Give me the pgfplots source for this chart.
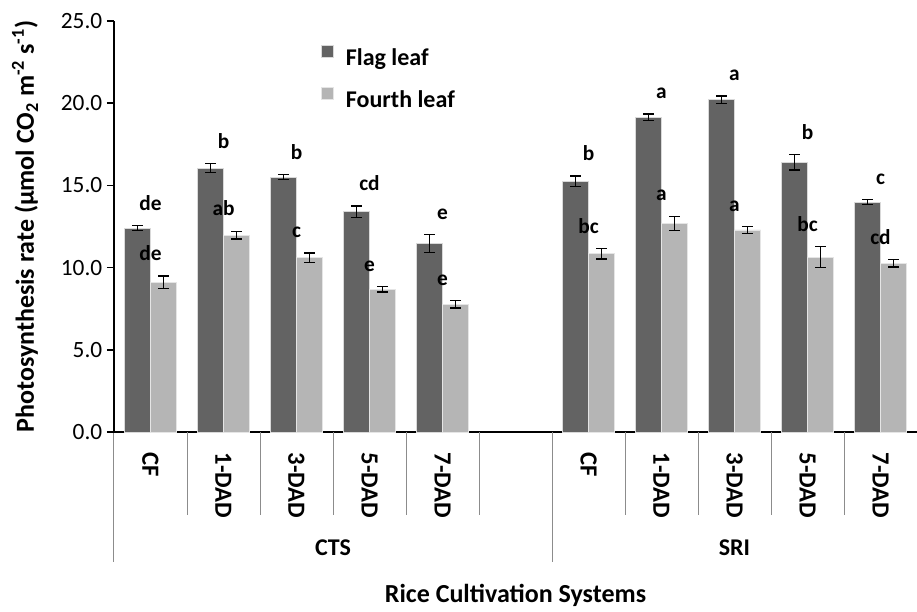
\documentclass[border=0pt]{standalone}
\usepackage{fontspec}
\setmainfont{Carlito}
\usepackage{pgfplots}
\usepackage{pgfplotstable}
\pgfplotsset{compat=1.18}
\definecolor{flagc}{RGB}{99,99,99}
\definecolor{fourc}{RGB}{181,181,181}
\definecolor{sepc}{RGB}{140,140,140}
\pgfplotstableread{
x flag ferr flab fourth foerr folab
0 12.40 0.15 de 9.10 0.38 de
1 16.05 0.28 b 11.98 0.23 ab
2 15.50 0.15 b 10.60 0.28 c
3 13.40 0.36 cd 8.68 0.17 e
4 11.46 0.55 e 7.77 0.22 e
6 15.25 0.32 b 10.85 0.32 bc
7 19.14 0.19 a 12.69 0.43 a
8 20.21 0.23 a 12.29 0.22 a
9 16.40 0.47 b 10.64 0.64 bc
10 13.99 0.16 c 10.26 0.22 cd
}\data
\begin{document}
\begin{tikzpicture}
\useasboundingbox (-85.5pt,-134.25pt) rectangle (602.25pt,324pt);
\begin{axis}[
  at={(0,0)}, anchor=south west,
  scale only axis, width=602.25pt, height=308.25pt,
  ybar, bar width=19.5pt,
  xmin=-0.5, xmax=10.5, ymin=0, ymax=25,
  enlargelimits=false, clip=false,
  axis x line*=bottom, axis y line*=left,
  axis line style={-, line width=1.1pt, black},
  xtick={0,1,2,3,4,6,7,8,9,10},
  xticklabels={CF,1-DAD,3-DAD,5-DAD,7-DAD,CF,1-DAD,3-DAD,5-DAD,7-DAD},
  xtick style={draw=none},
  xticklabel style={yshift=-10pt, rotate=-90, anchor=west, inner sep=0pt, font=\bfseries\fontsize{18.5}{21}\selectfont},
  ytick={0,5,10,15,20,25},
  tick align=outside, major tick length=5.25pt,
  ytick style={line width=1.1pt, black},
  yticklabel style={font=\fontsize{17.5}{20}\selectfont, /pgf/number format/.cd, fixed, fixed zerofill, precision=1, assume math mode=true},
  ylabel={Photosynthesis rate (µmol CO\textsubscript{2} m\textsuperscript{-2} s\textsuperscript{-1})},
  ylabel style={at={(axis description cs:-0.1108,0.5)}, anchor=center, font=\bfseries\fontsize{19.5}{22}\selectfont},
  xlabel={Rice Cultivation Systems},
  xlabel style={at={(axis description cs:0.5,-0.416)}, anchor=base, font=\bfseries\fontsize{19.5}{22}\selectfont},
  legend style={at={(axis description cs:0.2574,0.9416)}, anchor=north west, draw=none, fill=none,
    inner sep=0pt, column sep=9.3pt, row sep=15pt, font=\bfseries\fontsize{18}{21}\selectfont,
    nodes={inner sep=0pt}},
  legend cell align=left,
  legend image code/.code={\fill[#1] (0pt,0.4pt) rectangle (9pt,9.4pt);},
]
\addplot[fill=flagc, draw=black!15, line width=0.4pt, bar shift=-9.75pt,
  error bars/.cd, y dir=both, y explicit,
  error bar style={line width=1.1pt, black},
  error mark options={rotate=90, mark size=4pt, line width=1.1pt, black}]
  table[x=x, y=flag, y error=ferr] {\data};
\addlegendentry{Flag leaf}
\addplot[fill=fourc, draw=black!10, line width=0.4pt, bar shift=9.75pt,
  error bars/.cd, y dir=both, y explicit,
  error bar style={line width=1.1pt, black},
  error mark options={rotate=90, mark size=4pt, line width=1.1pt, black}]
  table[x=x, y=fourth, y error=foerr] {\data};
\addlegendentry{Fourth leaf}
\addplot[forget plot, draw=none, fill=none, bar shift=-9.75pt, nodes near coords, point meta=explicit symbolic,
  every node near coord/.style={anchor=base, yshift=11.5pt, text=black, font=\bfseries\fontsize{16}{19}\selectfont}]
  table[x=x, y expr=\thisrow{flag}+\thisrow{ferr}, meta=flab] {\data};
\addplot[forget plot, draw=none, fill=none, bar shift=9.75pt, nodes near coords, point meta=explicit symbolic,
  every node near coord/.style={anchor=base, yshift=11.5pt, text=black, font=\bfseries\fontsize{16}{19}\selectfont}]
  table[x=x, y expr=\thisrow{fourth}+\thisrow{foerr}, meta=folab] {\data};
\pgfplotsinvokeforeach{0.5,1.5,2.5,3.5,4.5,6.5,7.5,8.5,9.5}{
  \draw[sepc, line width=0.75pt] (axis cs:#1,0) -- ++(0pt,-62.25pt);
}
\pgfplotsinvokeforeach{-0.5,5.5,10.5}{
  \draw[sepc, line width=0.75pt] (axis cs:#1,0) -- ++(0pt,-97.5pt);
}
\draw[black, line width=1.1pt] (axis cs:-0.5,0) -- ++(-5.25pt,0pt);
\node[anchor=base, font=\bfseries\fontsize{18}{21}\selectfont] at (axis cs:2.5,0) [yshift=-92.25pt] {CTS};
\node[anchor=base, font=\bfseries\fontsize{18}{21}\selectfont] at (axis cs:8,0) [yshift=-92.25pt] {SRI};
\end{axis}
\end{tikzpicture}
\end{document}
